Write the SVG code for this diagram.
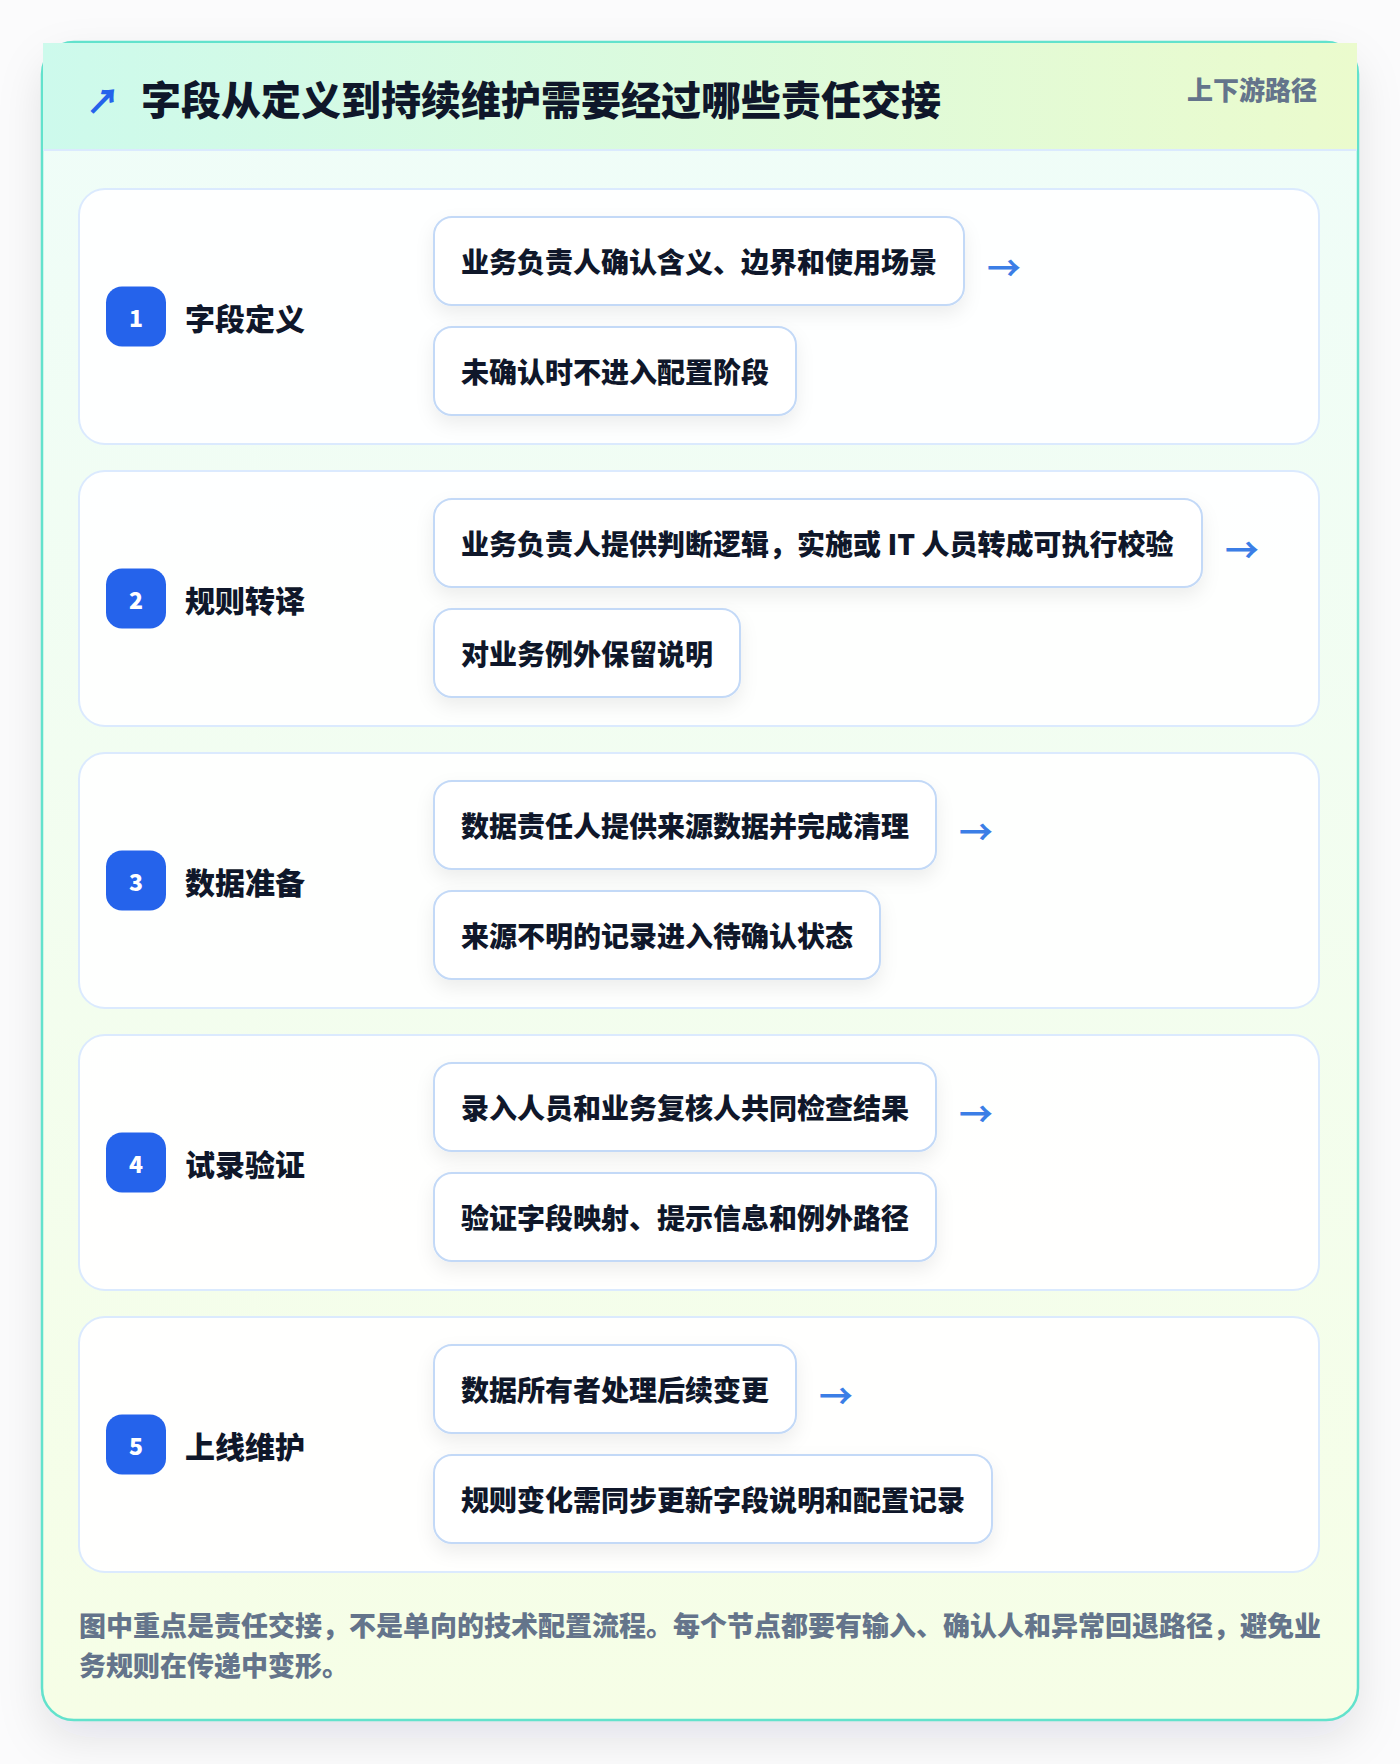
<svg xmlns="http://www.w3.org/2000/svg" width="1400" height="1764" viewBox="0 0 1400 1764">
<defs>
<linearGradient id="hdr" x1="0" y1="0" x2="1" y2="0">
<stop offset="0" stop-color="#cdfaec"/>
<stop offset="1" stop-color="#ebfbcd"/>
</linearGradient>
<linearGradient id="body" x1="0" y1="0" x2="0" y2="1">
<stop offset="0" stop-color="#effdf9"/>
<stop offset="1" stop-color="#f6fee6"/>
</linearGradient>
<filter id="outerShadow" x="-10%" y="-10%" width="120%" height="120%">
<feDropShadow dx="0" dy="18" stdDeviation="22" flood-color="#0f172a" flood-opacity="0.10"/>
</filter>
<filter id="boxShadow" x="-10%" y="-30%" width="120%" height="170%">
<feDropShadow dx="0" dy="8" stdDeviation="9" flood-color="#0f172a" flood-opacity="0.07"/>
</filter>
</defs>
<style>
.cjk{font-family:"Noto Sans CJK SC","Noto Sans",sans-serif}
.title{font-size:40px;font-weight:900;fill:#0f172a}
.tag{font-size:26px;font-weight:800;fill:#64748b}
.card{fill:#ffffff;fill-opacity:0.92;stroke:#dbeafe;stroke-width:2}
.badge{fill:#2563eb}
.num{font-size:23px;font-weight:800;fill:#ffffff}
.label{font-size:30px;font-weight:800;fill:#0f172a}
.box{fill:#ffffff;stroke:#c3d9f7;stroke-width:2;filter:url(#boxShadow)}
.btxt{font-size:28px;font-weight:800;fill:#0f172a}
.arrow{font-size:34px;font-weight:700;fill:#3b7ee6}
.foot{font-size:27px;font-weight:800;fill:#64748b}
</style>
<rect width="1400" height="1764" fill="#fbfbfc"/>
<g id="frame">
<rect x="42" y="42" width="1316" height="1678" rx="32" fill="url(#body)" filter="url(#outerShadow)"/>
<rect x="42" y="42" width="1316" height="1678" rx="32" fill="none" stroke="#62e2cc" stroke-width="2.5"/>
<rect x="43" y="43" width="1314" height="106" fill="url(#hdr)"/>
<line x1="43" y1="150" x2="1357" y2="150" stroke="#dbeafe" stroke-width="2"/>
<text class="cjk" x="86" y="99" dominant-baseline="central" font-size="34" font-weight="800" fill="#2563eb">↗</text>
<text class="cjk title" x="141" y="98" dominant-baseline="central">字段从定义到持续维护需要经过哪些责任交接</text>
<text class="cjk tag" x="1317" y="88" dominant-baseline="central" text-anchor="end">上下游路径</text>
</g>
<g id="step1">
<rect class="card" x="79" y="189" width="1240" height="255" rx="26"/>
<rect class="badge" x="106" y="286.5" width="60" height="60" rx="16"/>
<text class="cjk num" x="136" y="316.5" dominant-baseline="central" text-anchor="middle">1</text>
<text class="cjk label" x="185" y="316.5" dominant-baseline="central">字段定义</text>
<rect class="box" x="434" y="217" width="530" height="88" rx="18"/>
<text class="cjk btxt" x="461" y="261" dominant-baseline="central">业务负责人确认含义、边界和使用场景</text>
<rect class="box" x="434" y="327" width="362" height="88" rx="18"/>
<text class="cjk btxt" x="461" y="371" dominant-baseline="central">未确认时不进入配置阶段</text>
</g>
<g id="step2">
<rect class="card" x="79" y="471" width="1240" height="255" rx="26"/>
<rect class="badge" x="106" y="568.5" width="60" height="60" rx="16"/>
<text class="cjk num" x="136" y="598.5" dominant-baseline="central" text-anchor="middle">2</text>
<text class="cjk label" x="185" y="598.5" dominant-baseline="central">规则转译</text>
<rect class="box" x="434" y="499" width="768" height="88" rx="18"/>
<text class="cjk btxt" x="461" y="543" dominant-baseline="central">业务负责人提供判断逻辑，实施或 IT 人员转成可执行校验</text>
<rect class="box" x="434" y="609" width="306" height="88" rx="18"/>
<text class="cjk btxt" x="461" y="653" dominant-baseline="central">对业务例外保留说明</text>
</g>
<g id="step3">
<rect class="card" x="79" y="753" width="1240" height="255" rx="26"/>
<rect class="badge" x="106" y="850.5" width="60" height="60" rx="16"/>
<text class="cjk num" x="136" y="880.5" dominant-baseline="central" text-anchor="middle">3</text>
<text class="cjk label" x="185" y="880.5" dominant-baseline="central">数据准备</text>
<rect class="box" x="434" y="781" width="502" height="88" rx="18"/>
<text class="cjk btxt" x="461" y="825" dominant-baseline="central">数据责任人提供来源数据并完成清理</text>
<rect class="box" x="434" y="891" width="446" height="88" rx="18"/>
<text class="cjk btxt" x="461" y="935" dominant-baseline="central">来源不明的记录进入待确认状态</text>
</g>
<g id="step4">
<rect class="card" x="79" y="1035" width="1240" height="255" rx="26"/>
<rect class="badge" x="106" y="1132.5" width="60" height="60" rx="16"/>
<text class="cjk num" x="136" y="1162.5" dominant-baseline="central" text-anchor="middle">4</text>
<text class="cjk label" x="185" y="1162.5" dominant-baseline="central">试录验证</text>
<rect class="box" x="434" y="1063" width="502" height="88" rx="18"/>
<text class="cjk btxt" x="461" y="1107" dominant-baseline="central">录入人员和业务复核人共同检查结果</text>
<rect class="box" x="434" y="1173" width="502" height="88" rx="18"/>
<text class="cjk btxt" x="461" y="1217" dominant-baseline="central">验证字段映射、提示信息和例外路径</text>
</g>
<g id="step5">
<rect class="card" x="79" y="1317" width="1240" height="255" rx="26"/>
<rect class="badge" x="106" y="1414.5" width="60" height="60" rx="16"/>
<text class="cjk num" x="136" y="1444.5" dominant-baseline="central" text-anchor="middle">5</text>
<text class="cjk label" x="185" y="1444.5" dominant-baseline="central">上线维护</text>
<rect class="box" x="434" y="1345" width="362" height="88" rx="18"/>
<text class="cjk btxt" x="461" y="1389" dominant-baseline="central">数据所有者处理后续变更</text>
<rect class="box" x="434" y="1455" width="558" height="88" rx="18"/>
<text class="cjk btxt" x="461" y="1499" dominant-baseline="central">规则变化需同步更新字段说明和配置记录</text>
</g>
<g id="connectors">
<text class="cjk arrow" x="987" y="266" dominant-baseline="central">→</text>
<text class="cjk arrow" x="1225" y="548" dominant-baseline="central">→</text>
<text class="cjk arrow" x="959" y="830" dominant-baseline="central">→</text>
<text class="cjk arrow" x="959" y="1112" dominant-baseline="central">→</text>
<text class="cjk arrow" x="819" y="1394" dominant-baseline="central">→</text>
</g>
<g id="footer">
<text class="cjk foot" x="79" y="1624" dominant-baseline="central">图中重点是责任交接，不是单向的技术配置流程。每个节点都要有输入、确认人和异常回退路径，避免业</text>
<text class="cjk foot" x="79" y="1664" dominant-baseline="central">务规则在传递中变形。</text>
</g>
</svg>
